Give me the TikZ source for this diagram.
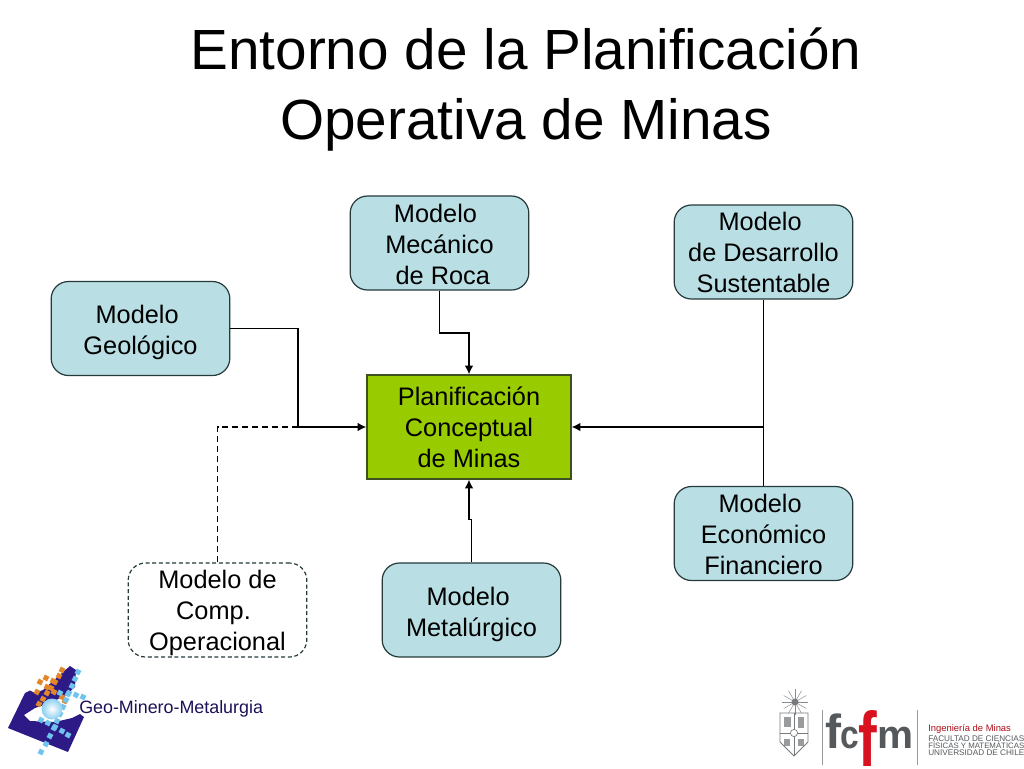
\documentclass[tikz,border=0pt]{standalone}
\usepackage{fontspec}
\usepackage{graphicx}
\setmainfont{Liberation Sans}
\usetikzlibrary{arrows.meta}
\definecolor{boxfill}{HTML}{B9DFE4}
\definecolor{planfill}{HTML}{99CC00}
\definecolor{edgecol}{HTML}{26393B}
\definecolor{planedge}{HTML}{3F5020}
\definecolor{logoblue}{HTML}{2E1A87}
\definecolor{logosky}{HTML}{6FC3EC}
\definecolor{logoorange}{HTML}{E2862A}
\definecolor{fcgrey}{HTML}{55595C}
\definecolor{fcred}{HTML}{D8121F}
\newcommand{\toL}[1]{\hspace*{#1pt}}
\newcommand{\dn}[1]{\rule{0pt}{\dimexpr 13.85pt+2\dimexpr #1pt\relax\relax}}
\tikzset{
  x=0.75pt,y=-0.75pt,
  modelbox/.style={draw=edgecol,line width=0.9pt,fill=boxfill,rounded corners=13pt,minimum width=134pt,minimum height=70.5pt,inner sep=0pt,align=center,font=\fontsize{19}{23.25}\selectfont,text=black},
  dashbox/.style={modelbox,fill=white,dash pattern=on 3pt off 2pt},
  planbox/.style={draw=planedge,line width=0.9pt,fill=planfill,minimum width=153pt,minimum height=78pt,inner sep=0pt,align=center,font=\fontsize{19}{23.25}\selectfont,text=black},
  titletext/.style={align=center,font=\fontsize{42.5}{52.5}\selectfont,text=black,inner sep=0pt},
  link/.style={line width=1.35pt,black},
  linkarrow/.style={link,-{Latex[length=6.5pt,width=6.5pt]}},
  linkdash/.style={link,dash pattern=on 4.5pt off 3pt},
  sq/.style={rotate=-28,minimum size=3.8pt,inner sep=0pt},
  smalllogo/.style={inner sep=0pt,anchor=west,text=fcgrey},
}
\begin{document}
\begin{tikzpicture}
\useasboundingbox (0,0) rectangle (1024,768);
\fill[white] (0,0) rectangle (1024,768);

\node[titletext] (title) at (526,90) {Entorno de la Planificación\\Operativa de Minas};

\node[modelbox] (geo) at (140.5,328.5) {\dn{2.8}Modelo\toL{5}\\Geológico};
\node[modelbox] (mec) at (439.5,243) {\dn{0.75}Modelo\toL{6}\\Mecánico\\\toL{5}de Roca};
\node[modelbox] (dev) at (763.5,252) {Modelo\toL{5}\\de Desarrollo\\Sustentable};
\node[planbox] (plan) at (469,427) {Planificación\\Conceptual\\de Minas};
\node[modelbox] (eco) at (763.5,533.5) {\dn{0.75}Modelo\toL{5}\\Económico\\Financiero};
\node[dashbox] (comp) at (217.5,610) {\dn{2.25}Modelo de\\\mbox{Comp.\hspace{6pt}}\hspace*{6pt}\\Operacional};
\node[modelbox] (met) at (471.5,610) {\dn{3}Modelo\toL{5}\\Metalúrgico};

\coordinate (join) at (298,427);
\draw[linkdash] (comp.north) |- (join);
\draw[linkarrow] (geo.east) -| (join) -- (plan.west);
\draw[linkarrow] (mec.south) -- ++(0,42) -| (plan.north);
\draw[linkarrow] (dev.south) |- (plan.east);
\draw[link] (eco.north) -- (eco.north |- plan.east);
\draw[linkarrow] (met.north) -- ++(0,-43) -| (plan.south);

% left logo
\fill[logoblue] (8,728) -- (25,693) -- (30,690.5) -- (35,693) -- (43,690) -- (63,672) -- (70,666) -- (76,670) -- (75,687) -- (66,695) -- (50,703) -- (35,708) -- (24,715) -- (30,721) -- (55,722) -- (72,718) -- (80,714) -- (84,717) -- (68,752) -- cycle;
\foreach \px/\py in {62/670, 59/676, 55/682, 51/688, 47/693, 43/699, 39/704, 40/682, 47/687, 54/692, 62/697, 65/701, 46/678, 53/681, 37/692}
  \node[sq,fill=logoorange] at (\px,\py) {};
\foreach \px/\py in {78/672, 75/679, 72/686, 69/693, 66/700, 63/707, 60/714, 57/721, 54/728, 50/736, 46/744, 41/752, 60/693, 68/694, 76/695, 83/697, 41/720, 48/723, 55/727, 62/731, 68/735}
  \node[sq,fill=logosky] at (\px,\py) {};
\shade[inner color=white,outer color=logosky!80] (52,709) circle (10.5);
\node[smalllogo,text=logoblue!65!black,font=\fontsize{13.4}{15}\selectfont] (geotext) at (79,708.5) {Geo-Minero-Metalurgia};

% right logo
\foreach \ang in {0,30,...,330}
  \draw[fcgrey!70,line width=0.35pt] (795,702) -- ++(\ang:13);
\fill[fcgrey!80] (795,702) circle (3.5);
\draw[fcgrey!80,line width=0.6pt] (780,713) -- (808,713) -- (808,742) -- (794,756) -- (780,742) -- cycle;
\draw[fcgrey!80,line width=0.5pt] (794,713) -- (794,756) (780,733) -- (808,733);
\fill[white] (794,733) circle (3.6);
\draw[fcgrey!80,line width=0.5pt] (794,733) circle (3.6);
\fill[fcgrey!60] (784,717) rectangle (791,727);
\fill[fcgrey!60] (798,717) rectangle (804,728);
\fill[fcgrey!60] (784,739) rectangle (790,746);
\fill[fcgrey!60] (798,739) rectangle (804,746);
\draw[fcgrey!60,line width=0.6pt] (822,710) -- (822,765) (917,710) -- (917,765);
\node[smalllogo,anchor=base west] (fcA) at (825,748) {\resizebox{12pt}{26pt}{\bfseries f}};
\node[smalllogo,anchor=base west] (fcK) at (840,748) {\resizebox{14pt}{16pt}{\bfseries c}};
\node[smalllogo,anchor=base west,text=fcred] (fcB) at (858,766) {\resizebox{14pt}{42pt}{\bfseries f}};
\node[smalllogo,anchor=base west] (fcC) at (877,748) {\resizebox{27pt}{16pt}{\bfseries m}};
\node[smalllogo,text=fcred!80!black] (ing) at (928,729) {\resizebox{62pt}{!}{Ingeniería de Minas}};
\node[smalllogo] (fac) at (928,738.5) {\resizebox{72pt}{!}{FACULTAD DE CIENCIAS}};
\node[smalllogo] (fis) at (928,745.5) {\resizebox{72pt}{!}{FÍSICAS Y MATEMÁTICAS}};
\node[smalllogo] (uni) at (928,753) {\resizebox{72pt}{!}{UNIVERSIDAD DE CHILE}};
\end{tikzpicture}
\end{document}
